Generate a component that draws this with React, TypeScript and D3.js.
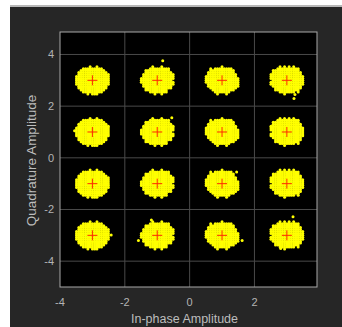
import { useEffect, useRef } from "react";
import * as d3 from "d3";

// 16-QAM reference constellation
const levels = [-3, -1, 1, 3];
const xTicks = [-4, -2, 0, 2];
const yTicks = [-4, -2, 0, 2, 4];

// blob shapes (one '#' = one received sample on a fine grid)
const blobShapes = [
  [
    "......#..#.....",
    "...#########...",
    "..###########..",
    ".#############.",
    ".##############",
    "###############",
    "###############",
    "###############",
    "###############",
    "###############",
    ".#############.",
    ".#############.",
    "..###########..",
    "...#########...",
    ".....#.###.....",
  ],
  [
    ".....#...#.....",
    "....#########..",
    "..###########..",
    "..############.",
    ".##############",
    ".##############",
    "###############",
    "##############.",
    "###############",
    ".##############",
    ".#############.",
    "..############.",
    "..##########...",
    "....########...",
    "......#..#.....",
  ],
  [
    ".......#.......",
    "..#.########...",
    "..###########..",
    ".############..",
    ".#############.",
    "##############.",
    "###############",
    "###############",
    "###############",
    ".##############",
    ".##############",
    "..############.",
    "...##########..",
    "....#######....",
    ".....#...#.....",
  ],
  [
    "....#.#.#.#....",
    "...##########..",
    ".############..",
    ".#############.",
    "##############.",
    "###############",
    "###############",
    ".##############",
    "###############",
    "###############",
    ".#############.",
    "..############.",
    "..###########..",
    "....#######.#..",
    "......#........",
  ],
];

// a few stray samples outside the blobs
const strays: [number, number][] = [
  [-0.83, 3.76],
  [3.22, 2.3],
  [3.25, 2.45],
  [3.19, -2.28],
  [2.81, -3.51],
  [-1.18, -2.41],
  [-1.58, -3.2],
  [1.62, -3.2],
  [-2.42, -2.99],
  [-3.55, 1.05],
  [-0.55, 1.55],
  [1.45, -0.55],
];

const W = 342;
const H = 327;
const left = 60;
const right = 317;
const top = 32;
const bottom = 287;

export default function App() {
  const ref = useRef<SVGSVGElement | null>(null);

  useEffect(() => {
    const svg = d3.select(ref.current);
    svg.selectAll("*").remove();

    const x = d3.scaleLinear().domain([-4, 3.93]).range([left, right]);
    const y = d3.scaleLinear().domain([-5, 4.87]).range([bottom, top]);

    // figure background
    svg.append("rect").attr("width", W).attr("height", H).attr("fill", "#ffffff");
    svg.append("rect").attr("x", 10).attr("y", 7).attr("width", W - 10).attr("height", H - 7).attr("fill", "#262626");
    svg.append("line").attr("x1", 10).attr("x2", W).attr("y1", 6).attr("y2", 6).attr("stroke", "#a0a0a0").attr("stroke-width", 1.5);

    // axes area
    svg.append("rect").attr("x", left).attr("y", top).attr("width", right - left).attr("height", bottom - top).attr("fill", "#000");

    const grid = svg.append("g").attr("stroke", "#4a4a4a").attr("stroke-width", 1);
    xTicks.filter((t) => t > -4).forEach((t) => {
      grid.append("line").attr("x1", x(t)).attr("x2", x(t)).attr("y1", top).attr("y2", bottom);
    });
    yTicks.forEach((t) => {
      grid.append("line").attr("x1", left).attr("x2", right).attr("y1", y(t)).attr("y2", y(t));
    });

    // received samples
    const stepX = 0.07;
    const stepY = 0.075;
    const pts: [number, number][] = [];
    let k = 0;
    levels.forEach((qi) => {
      levels.forEach((ii) => {
        const shape = blobShapes[k % blobShapes.length];
        k++;
        shape.forEach((row, r) => {
          row.split("").forEach((c, col) => {
            if (c === "#") pts.push([ii + (col - 7) * stepX, qi - (r - 7) * stepY]);
          });
        });
      });
    });
    strays.forEach((p) => pts.push(p));

    svg
      .append("g")
      .selectAll("circle")
      .data(pts)
      .enter()
      .append("circle")
      .attr("cx", (d) => x(d[0]))
      .attr("cy", (d) => y(d[1]))
      .attr("r", 1.5)
      .attr("fill", "#ffff00");

    // reference points
    const refs: [number, number][] = [];
    levels.forEach((qi) => levels.forEach((ii) => refs.push([ii, qi])));
    const plus = svg.append("g").attr("stroke", "#ff2a00").attr("stroke-width", 1);
    refs.forEach(([a, b]) => {
      plus.append("line").attr("x1", x(a) - 5).attr("x2", x(a) + 5).attr("y1", y(b)).attr("y2", y(b));
      plus.append("line").attr("x1", x(a)).attr("x2", x(a)).attr("y1", y(b) - 5).attr("y2", y(b) + 5);
    });

    // box
    svg.append("rect").attr("x", left).attr("y", top).attr("width", right - left).attr("height", bottom - top)
      .attr("fill", "none").attr("stroke", "#a8a8a8").attr("stroke-width", 1);

    const font = "'Liberation Sans', Arial, sans-serif";
    svg.append("g").selectAll("text").data(xTicks).enter().append("text")
      .attr("x", (d) => x(d)).attr("y", bottom + 19)
      .attr("text-anchor", "middle").attr("font-family", font).attr("font-size", 11).attr("fill", "#b4b4b4")
      .text((d) => String(d));
    svg.append("g").selectAll("text").data(yTicks).enter().append("text")
      .attr("x", left - 6).attr("y", (d) => y(d) + 4)
      .attr("text-anchor", "end").attr("font-family", font).attr("font-size", 11).attr("fill", "#b4b4b4")
      .text((d) => String(d));

    svg.append("text").attr("x", (left + right) / 2 - 4).attr("y", 323)
      .attr("text-anchor", "middle").attr("font-family", font).attr("font-size", 12.5).attr("fill", "#bdbdbd")
      .text("In-phase Amplitude");
    svg.append("text").attr("transform", `translate(36,${(top + bottom) / 2 + 1}) rotate(-90)`)
      .attr("text-anchor", "middle").attr("font-family", font).attr("font-size", 13.5).attr("fill", "#bdbdbd")
      .text("Quadrature Amplitude");
  }, []);

  return (
    <svg
      ref={ref}
      width={W}
      height={H}
      style={{ position: "absolute", left: 0, top: 0 }}
    />
  );
}
